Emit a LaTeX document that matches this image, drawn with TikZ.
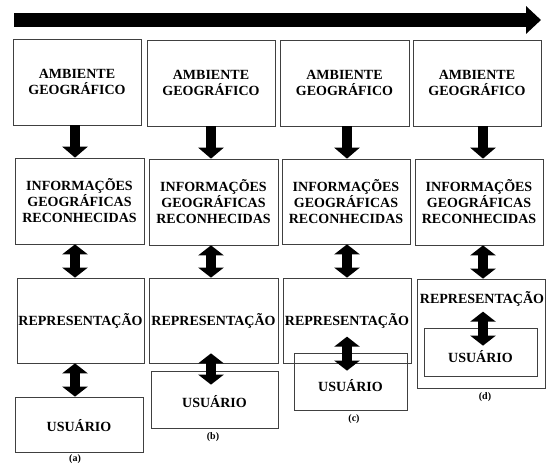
\documentclass[tikz,border=0pt]{standalone}
\usepackage{fontspec}
\setmainfont{Liberation Serif}
\usetikzlibrary{arrows.meta,calc}

\tikzset{
  box/.style={draw=black!75, line width=0.7pt, minimum width=128pt, minimum height=86pt,
    inner sep=0pt, align=center, font=\bfseries\fontsize{14}{16}\selectfont},
  tag/.style={font=\bfseries\fontsize{10}{11}\selectfont, inner sep=0pt},
  fat/.style={line width=10pt, -{Triangle[length=11pt,width=25pt]}},
  fatboth/.style={line width=10pt, {Triangle[length=10pt,width=25pt]}-{Triangle[length=10pt,width=25pt]}}
}
\newcommand{\lowtext}[2]{\raisebox{-#1}[\height][\depth]{#2}}

\begin{document}
\begin{tikzpicture}
[x=1pt, y=-1pt]
  \useasboundingbox (0,0) rectangle (554,465);
  % time line
  \coordinate (t0) at (14,20);
  \coordinate (t1) at (541,20);
  \draw[line width=14pt, -{Triangle[length=15pt,width=27pt]}] (t0) -- (t1);
  % (a)
  \node[box] (amb1) at (77,82) {AMBIENTE\\GEOGRÁFICO};
  \node[box, minimum width=129pt] (inf1) at (79.5,201) {INFORMAÇÕES\\GEOGRÁFICAS\\RECONHECIDAS};
  \node[box, minimum width=127pt, minimum height=85pt] (rep1) at (80.5,320.5) {REPRESENTAÇÃO};
  \node[box, minimum height=55pt] (usu1) at (79,424.5) {\lowtext{1.5pt}{USUÁRIO}};
  \node[tag] (lbla) at (75,459) {(a)};
  % (b)
  \node[box] (amb2) at (211,83) {AMBIENTE\\GEOGRÁFICO};
  \node[box, minimum width=129pt] (inf2) at (213.5,202) {INFORMAÇÕES\\GEOGRÁFICAS\\RECONHECIDAS};
  \node[box, minimum width=129pt, minimum height=85pt] (rep2) at (213.5,320.5) {REPRESENTAÇÃO};
  \node[box, minimum width=127pt, minimum height=57pt] (usu2) at (214.5,399.5) {\lowtext{2pt}{USUÁRIO}};
  \node[tag] (lblb) at (213,437) {(b)};
  % (c)
  \node[box, minimum width=129pt] (amb3) at (344.5,83) {AMBIENTE\\GEOGRÁFICO};
  \node[box, minimum height=85pt] (inf3) at (346,201.5) {INFORMAÇÕES\\GEOGRÁFICAS\\RECONHECIDAS};
  \node[box, minimum height=85pt] (rep3) at (347,320.5) {REPRESENTAÇÃO};
  \node[box, minimum width=113pt, minimum height=57pt] (usu3) at (350.5,381.5) {\lowtext{4.5pt}{USUÁRIO}};
  \node[tag] (lblc) at (354,419) {(c)};
  % (d)
  \node[box] (amb4) at (477,83) {AMBIENTE\\GEOGRÁFICO};
  \node[box] (inf4) at (479,202) {INFORMAÇÕES\\GEOGRÁFICAS\\RECONHECIDAS};
  \node[box, minimum height=109pt] (rep4) at (481,333.5) {};
  \node[box, draw=none, minimum width=0pt, minimum height=0pt] (rep4txt) at (482,299) {REPRESENTAÇÃO};
  \node[box, minimum width=113pt, minimum height=48pt] (usu4) at (480.5,352) {\lowtext{5pt}{USUÁRIO}};
  \node[tag] (lbld) at (485,397) {(d)};
  % arrows
  \coordinate (col1) at (75,0);
  \coordinate (col2) at (211,0);
  \coordinate (col3) at (347,0);
  \coordinate (col4) at (483,0);
  \foreach \c in {1,2,3,4}
  \draw[fat] (col\c |- amb\c.south) -- (col\c |- inf\c.north);
  \foreach \c in {1,2,3,4}
  \draw[fatboth] (col\c |- inf\c.south) -- (col\c |- rep\c.north);
  \draw[fatboth] (col1 |- rep1.south) -- (col1 |- usu1.north);
  \draw[fatboth] ($(col2 |- rep2.south)+(0,-10)$) -- ($(col2 |- usu2.north)+(0,14)$);
  \draw[fatboth] ($(col3 |- usu3.north)+(0,-16)$) -- ($(col3 |- usu3.north)+(0,18)$);
  \draw[fatboth] ($(col4 |- usu4.north)+(0,-16)$) -- ($(col4 |- usu4.north)+(0,18)$);
\end{tikzpicture}
\end{document}
